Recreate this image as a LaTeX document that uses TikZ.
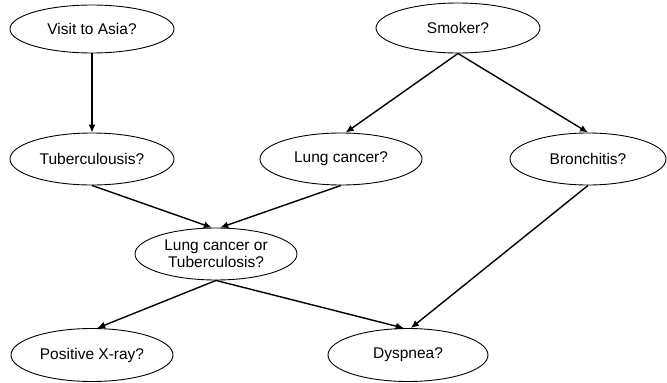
\documentclass[tikz,border=0pt]{standalone}
\usepackage{fontspec}
\setmainfont{Liberation Sans}
\usetikzlibrary{shapes.geometric,arrows.meta}
\begin{document}
\begin{tikzpicture}[x=1pt,y=-1pt,
  var/.style={draw,ellipse,line width=0.9pt,inner sep=0pt,align=center,
    font=\fontsize{15.5}{17}\selectfont},
  edge/.style={line width=1.4pt,-{Latex[length=8pt,width=7pt]}}]
\useasboundingbox (0,0) rectangle (667,383);
\node[var,minimum width=164pt,minimum height=48pt] (asia) at (92,29) {Visit to Asia?};
\node[var,minimum width=164pt,minimum height=50pt] (smoker) at (458,28) {Smoker?};
\node[var,minimum width=164pt,minimum height=52pt] (tub) at (92,159) {Tuberculousis?};
\node[var,minimum width=162pt,minimum height=52pt] (lung) at (341,159) {Lung cancer?};
\node[var,minimum width=156pt,minimum height=52pt] (bron) at (588,159) {Bronchitis?};
\node[var,minimum width=162pt,minimum height=52pt] (lct) at (216,254) {Lung cancer or\\Tuberculosis?};
\node[var,minimum width=162pt,minimum height=53pt] (xray) at (92,355) {Positive X-ray?};
\node[var,minimum width=160pt,minimum height=53pt] (dysp) at (408,355) {Dyspnea?};
\draw[edge] (asia.south) -- (tub.north);
\draw[edge] (smoker.south) -- (lung.80);
\draw[edge] (smoker.south) -- (bron.north);
\draw[edge] (tub.south) -- (lct.99);
\draw[edge] (lung.south) -- (lct.81);
\draw[edge] (lct.south) -- (xray.79);
\draw[edge] (lct.south) -- (dysp.99);
\draw[edge] (bron.south) -- (dysp.84);
\end{tikzpicture}
\end{document}
